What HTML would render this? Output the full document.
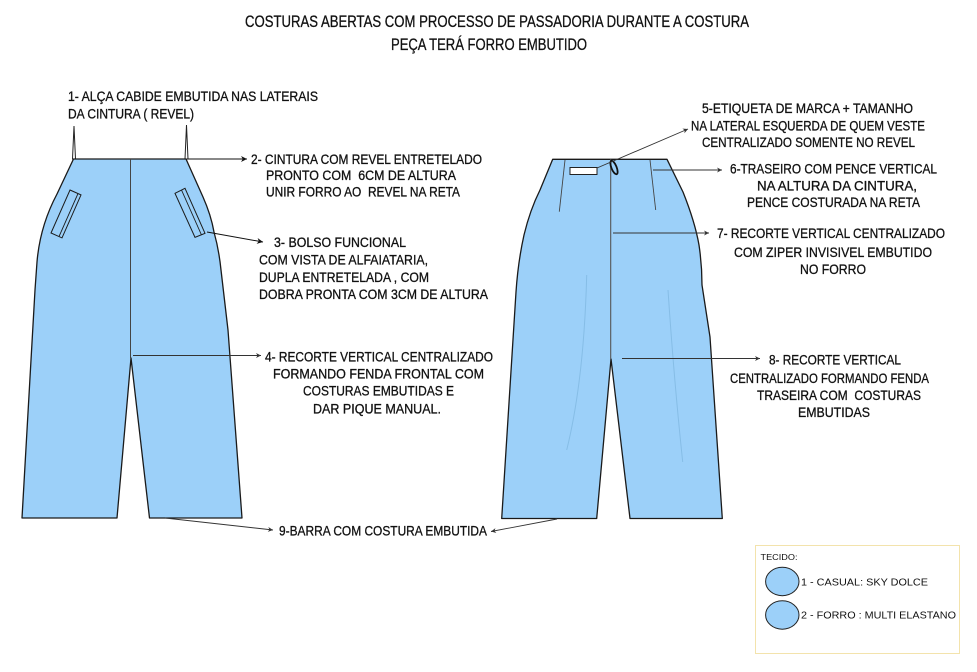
<!DOCTYPE html>
<html>
<head>
<meta charset="utf-8">
<style>
html,body{margin:0;padding:0;background:#fff;}
svg{display:block;}
text{font-family:"Liberation Sans",Arial,sans-serif;fill:#111;}
.lb text{stroke:#111;stroke-width:0.3;}
</style>
</head>
<body>
<svg width="977" height="672" viewBox="0 0 977 672" xmlns="http://www.w3.org/2000/svg">
<defs>
<marker id="ah" viewBox="0 0 10 10" refX="10" refY="5" markerWidth="8" markerHeight="6" markerUnits="userSpaceOnUse" orient="auto">
<path d="M0,0 L10,5 L0,10 L3,5 Z" fill="#111"/>
</marker>
<marker id="ahs" viewBox="0 0 10 10" refX="10" refY="5" markerWidth="6" markerHeight="5" markerUnits="userSpaceOnUse" orient="auto">
<path d="M0,0 L10,5 L0,10 L3,5 Z" fill="#333"/>
</marker>
</defs>

<!-- Title -->
<g class="lb">
<text x="245" y="27" font-size="16.5" textLength="504" lengthAdjust="spacingAndGlyphs">COSTURAS ABERTAS COM PROCESSO DE PASSADORIA DURANTE A COSTURA</text>
<text x="391" y="50" font-size="16.5" textLength="196" lengthAdjust="spacingAndGlyphs">PEÇA TERÁ FORRO EMBUTIDO</text>
</g>

<!-- FRONT GARMENT -->
<polygon points="72.5,159 74,126 75.5,159" fill="#fff" stroke="#222" stroke-width="1"/>
<polygon points="185,159 186.5,125 188,159" fill="#fff" stroke="#222" stroke-width="1"/>
<path d="M73.5,159 L186,159 L203,197 Q211,215 214,232 Q219,250 221,270 L228,330 L242,518 L149.5,518 L131,358 L117,518 L22,518 L35,290 L37,262 Q40,226 57,194 Z" fill="#9cd0f9" stroke="#1a1a1a" stroke-width="1.3" stroke-linejoin="round"/>
<line x1="130.5" y1="159" x2="130.5" y2="358" stroke="#444" stroke-width="1"/>
<!-- pockets -->
<polygon points="70,190 81,194.9 62,237.9 51,233" fill="none" stroke="#1a1a1a" stroke-width="1"/>
<line x1="78" y1="193.6" x2="59" y2="236.6" stroke="#1a1a1a" stroke-width="0.9"/>
<polygon points="175,193.3 185,188.3 205,233.3 195,237.3" fill="none" stroke="#1a1a1a" stroke-width="1"/>
<line x1="181.5" y1="190" x2="201.5" y2="235" stroke="#1a1a1a" stroke-width="0.9"/>

<!-- BACK GARMENT -->
<path d="M552.7,159.3 L667,159.3 L683,192 Q695,222 699,245 Q702,265 702,285 L710,337 L722.3,518.5 L630,518.5 L611,359 L596.7,518.5 L501.7,518.5 L516,292 Q518,262 524,235 Q530,210 540,190 Z" fill="#9cd0f9" stroke="#1a1a1a" stroke-width="1.3" stroke-linejoin="round"/>
<line x1="610.7" y1="159.3" x2="610.7" y2="359" stroke="#555" stroke-width="1.1"/>
<line x1="565" y1="160" x2="559.3" y2="211.7" stroke="#444" stroke-width="0.9"/>
<line x1="650" y1="160" x2="655.7" y2="210" stroke="#444" stroke-width="0.9"/>
<path d="M586.7,275 Q584,380 566.7,450" fill="none" stroke="#86bde6" stroke-width="1"/>
<path d="M668,290 Q674,380 682.7,462" fill="none" stroke="#86bde6" stroke-width="1"/>
<rect x="570" y="167.5" width="27" height="7" fill="#fff" stroke="#222" stroke-width="1"/>
<ellipse cx="614" cy="167.5" rx="2.6" ry="7.2" transform="rotate(-22 614 167.5)" fill="none" stroke="#111" stroke-width="1.8"/>

<!-- Connectors -->
<line x1="187" y1="159" x2="247" y2="159" stroke="#111" stroke-width="1" marker-end="url(#ah)"/>
<line x1="207" y1="232" x2="263" y2="242" stroke="#111" stroke-width="1" marker-end="url(#ah)"/>
<line x1="133" y1="355.5" x2="261" y2="355.5" stroke="#333" stroke-width="0.9" marker-end="url(#ahs)"/>
<line x1="165" y1="518" x2="273" y2="530" stroke="#333" stroke-width="0.9" marker-end="url(#ahs)"/>
<line x1="557" y1="519" x2="491" y2="531.5" stroke="#333" stroke-width="0.9" marker-end="url(#ahs)"/>
<line x1="597" y1="168" x2="688" y2="129" stroke="#333" stroke-width="0.9" marker-end="url(#ahs)"/>
<line x1="653" y1="170" x2="722" y2="170" stroke="#333" stroke-width="0.9" marker-end="url(#ahs)"/>
<line x1="613" y1="233" x2="709" y2="233" stroke="#333" stroke-width="0.9" marker-end="url(#ahs)"/>
<line x1="622" y1="358.5" x2="760" y2="358.5" stroke="#333" stroke-width="0.9" marker-end="url(#ahs)"/>

<!-- Labels -->
<g font-size="13.5" class="lb">
<text x="68" y="101" textLength="250" lengthAdjust="spacingAndGlyphs">1- ALÇA CABIDE EMBUTIDA NAS LATERAIS</text>
<text x="68" y="118.5" textLength="126" lengthAdjust="spacingAndGlyphs">DA CINTURA ( REVEL)</text>

<text x="251" y="164" textLength="231" lengthAdjust="spacingAndGlyphs">2- CINTURA COM REVEL ENTRETELADO</text>
<text x="266" y="180" textLength="190" lengthAdjust="spacingAndGlyphs">PRONTO COM&#160; 6CM DE ALTURA</text>
<text x="266" y="196.5" textLength="194" lengthAdjust="spacingAndGlyphs">UNIR FORRO AO&#160; REVEL NA RETA</text>

<text x="274" y="247" textLength="132" lengthAdjust="spacingAndGlyphs">3- BOLSO FUNCIONAL</text>
<text x="259" y="264.5" textLength="169" lengthAdjust="spacingAndGlyphs">COM VISTA DE ALFAIATARIA,</text>
<text x="259" y="282" textLength="170" lengthAdjust="spacingAndGlyphs">DUPLA ENTRETELADA , COM</text>
<text x="259" y="299" textLength="229" lengthAdjust="spacingAndGlyphs">DOBRA PRONTA COM 3CM DE ALTURA</text>

<text x="265" y="361.5" textLength="228" lengthAdjust="spacingAndGlyphs">4- RECORTE VERTICAL CENTRALIZADO</text>
<text x="273" y="378.5" textLength="211" lengthAdjust="spacingAndGlyphs">FORMANDO FENDA FRONTAL COM</text>
<text x="303" y="395.5" textLength="151" lengthAdjust="spacingAndGlyphs">COSTURAS EMBUTIDAS E</text>
<text x="313" y="413.5" textLength="128" lengthAdjust="spacingAndGlyphs">DAR PIQUE MANUAL.</text>

<text x="279" y="535.5" textLength="208" lengthAdjust="spacingAndGlyphs">9-BARRA COM COSTURA EMBUTIDA</text>

<text x="702" y="113" textLength="211" lengthAdjust="spacingAndGlyphs">5-ETIQUETA DE MARCA + TAMANHO</text>
<text x="691" y="130.5" textLength="234" lengthAdjust="spacingAndGlyphs">NA LATERAL ESQUERDA DE QUEM VESTE</text>
<text x="702" y="147" textLength="213" lengthAdjust="spacingAndGlyphs">CENTRALIZADO SOMENTE NO REVEL</text>

<text x="730" y="173.5" textLength="207" lengthAdjust="spacingAndGlyphs">6-TRASEIRO COM PENCE VERTICAL</text>
<text x="757" y="190.5" textLength="160" lengthAdjust="spacingAndGlyphs">NA ALTURA DA CINTURA,</text>
<text x="747" y="207" textLength="173" lengthAdjust="spacingAndGlyphs">PENCE COSTURADA NA RETA</text>

<text x="717" y="238" textLength="228" lengthAdjust="spacingAndGlyphs">7- RECORTE VERTICAL CENTRALIZADO</text>
<text x="734" y="257" textLength="198" lengthAdjust="spacingAndGlyphs">COM ZIPER INVISIVEL EMBUTIDO</text>
<text x="800" y="274" textLength="66" lengthAdjust="spacingAndGlyphs">NO FORRO</text>

<text x="769" y="364.5" textLength="132" lengthAdjust="spacingAndGlyphs">8- RECORTE VERTICAL</text>
<text x="730" y="383" textLength="199" lengthAdjust="spacingAndGlyphs">CENTRALIZADO FORMANDO FENDA</text>
<text x="757" y="400" textLength="164" lengthAdjust="spacingAndGlyphs">TRASEIRA COM&#160; COSTURAS</text>
<text x="798" y="417" textLength="72" lengthAdjust="spacingAndGlyphs">EMBUTIDAS</text>
</g>

<!-- Legend -->
<rect x="755.5" y="545.5" width="204" height="108" fill="#fff" stroke="#f3e3ac" stroke-width="1"/>
<text x="760.5" y="560" font-size="8.5" textLength="37" lengthAdjust="spacingAndGlyphs">TECIDO:</text>
<ellipse cx="782.3" cy="581.5" rx="16.7" ry="14.2" fill="#9cd0f9" stroke="#222" stroke-width="1"/>
<ellipse cx="782.3" cy="615" rx="16.7" ry="14.2" fill="#9cd0f9" stroke="#222" stroke-width="1"/>
<text x="801" y="585.5" font-size="10" textLength="127" lengthAdjust="spacingAndGlyphs">1 - CASUAL: SKY DOLCE</text>
<text x="801" y="618.5" font-size="10" textLength="155" lengthAdjust="spacingAndGlyphs">2 - FORRO : MULTI ELASTANO</text>
</svg>
</body>
</html>
